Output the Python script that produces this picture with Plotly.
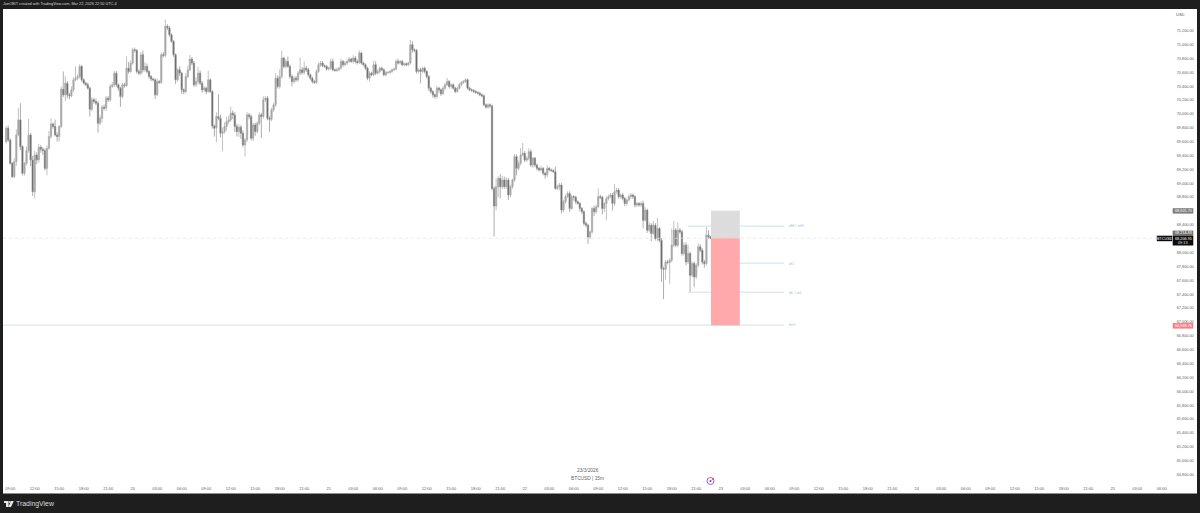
import plotly.graph_objects as go

W, H = 1200, 513
ML, MR, MT, MB = 3, 28, 9, 28

FIRST_OPEN = 69600
closes_a = [69794,69625,69288,69095,69312,69697,69914,69529,69143,69288,
69471,69697,69336,68878,69408,69336,69519,69490,69471,69215,
69504,69673,69856,69818,69697,69673,69818,70357,70275,70444,
70275,70261,70347,70492,70516,70540,70685,70492,70444,70420,
70372,70068,70203,70179,70155,69866,69938,70097,70083,70227,
70203,70396,70420,70588,70420,70372,70251,70420,70410,70660,
70612,70733,70925,70916,70612,70588,70853,70636,70685,70612,
70540,70502,70492,70275,70468,70453,70853,70844,71263,71239,
71142,71046,70853,70492,70636,70588,70347,70323,70540,70636,
70791,70733,70420,70468,70588,70444,70347,70372,70323,70492,
70323,69827,69794,69962,69938,69721,69745,69818,69890,69914,
70010,69986,69818,69745,69808,69721,69553,69625,69986,69962,
69649]
up_a = [30,40,20,20,50,80,170,240,20,20,
60,230,30,60,60,40,50,30,30,30,
40,80,80,20,100,40,20,40,255,100,
30,30,50,40,170,30,30,20,20,20,
30,20,40,30,40,30,40,30,40,30,
30,30,40,30,30,20,20,30,30,170,
90,40,30,30,20,30,40,60,60,40,
20,20,20,20,40,20,30,40,100,30,
30,20,20,20,30,50,20,20,50,60,
60,30,30,60,90,40,30,30,20,130,
20,20,20,60,320,50,60,60,70,60,
90,40,40,40,40,30,40,30,40,30,
30]
dn_a = [30,30,20,20,20,60,20,50,30,30,
30,30,90,60,96,60,40,50,60,30,
100,20,30,30,20,70,70,20,30,90,
50,50,20,30,20,30,30,30,20,20,
20,105,30,30,30,135,30,60,30,40,
30,30,20,30,30,40,150,30,30,20,
30,20,20,30,30,30,30,40,30,30,
30,30,20,60,20,20,20,30,30,30,
30,20,30,60,30,40,60,40,30,30,
20,30,30,30,40,30,40,30,40,20,
20,40,120,200,30,60,260,30,60,40,
30,60,80,70,80,80,30,170,30,40,
30]

closes_b = [69842,69745,69866,69986,69962,70203,70227,69938,69923,70058,
70131,70516,70396,70540,70805,70685,70757,70685,70540,70468,
70516,70492,70588,70636,70598,70660,70636,70564,70516,70468,
70453,70612,70709,70733,70694,70685,70646,70660,70757,70636,
70627,70636,70660,70757,70709,70733,70757,70791,70757,70805,
70757,70742,70877,70733,70709,70660,70516,70588,70564,70709,
70588,70612,70660,70636,70564,70598,70598,70612,70636,70646,
70757,70733,70757,70709,70723,70709,70733,70998,70925,70916,
70612,70636,70612,70660,70612,70540,70372,70323,70275,70251,
70372,70347,70290,70372,70420,70468,70396,70420,70372,70323,
70372,70420,70453,70468,70492,70372,70347,70338,70323,70309,
70299,70275,70261,70131,70097,70131,70116]
up_b = [30,30,30,40,30,50,30,30,30,30,
30,70,40,100,110,20,30,70,30,30,
30,30,30,180,40,100,30,30,20,20,
20,30,30,30,30,20,20,20,40,40,
20,30,20,40,20,30,30,30,20,40,
30,30,40,20,20,20,20,30,20,60,
50,30,20,20,20,20,20,20,20,20,
30,40,20,20,20,20,20,70,50,20,
20,20,30,20,20,20,20,20,20,20,
30,20,20,30,30,50,20,20,20,20,
20,30,20,20,20,20,20,20,20,20,
20,20,20,20,20,20,20]
dn_b = [40,60,30,30,310,30,30,30,180,30,
30,30,30,30,30,30,30,20,30,70,
30,30,30,30,30,30,30,30,30,30,
20,20,20,30,20,20,20,20,20,20,
20,20,20,20,30,20,30,20,20,30,
30,30,20,20,20,30,30,50,20,20,
30,20,30,20,20,20,20,20,20,20,
20,20,20,20,20,20,20,20,40,30,
30,30,170,30,30,30,40,30,40,30,
30,40,30,20,30,20,30,30,20,20,
20,20,20,20,20,20,20,20,20,20,
20,20,20,20,20,20,30]

closes_c = [68926,68671,68950,69070,68950,69046,68950,69046,68830,68950,
69046,69384,69215,69287,69408,69432,69335,69360,69456,69263,
69360,69263,69215,69191,69215,69143,69119,69215,69191,69185,
69167,68926,68950,68974,68613,68733,68806,68854,68637,68806,
68800,68733,68709,68637,68589,68420,68396,68227,68300,68637,
68589,68661,68806,68800,68637,68709,68782,68806,68830,68709,
68878,68902,68806,68830,68782,68709,68757,68806,68830,68806,
68685,68709,68685,68709,68468,68613,68324,68396,68276,68396,
68203,68348,68179,67770,67760,67866,67860,67890,68107,68324,
68107,68324,68300,67987,68107,67866,67987,67674,67842,67650,
67818,68083,68035,67866,67842,68252,68228,68207]
up_c = [20,30,120,30,60,60,50,40,30,30,
20,40,30,40,100,150,30,30,50,30,
20,20,20,20,40,20,20,40,20,20,
20,70,30,30,30,30,30,30,30,30,
20,20,20,20,20,20,30,20,20,20,
40,30,120,30,20,20,30,30,30,30,
110,30,30,20,30,20,20,30,30,20,
20,20,20,30,40,40,20,40,30,60,
30,150,20,30,30,30,30,30,240,130,
30,110,30,30,40,40,130,30,30,30,
30,50,40,30,30,120,70,10]
dn_c = [30,440,60,150,170,30,30,30,70,30,
30,30,100,30,30,20,30,30,30,30,
40,30,30,20,20,30,50,30,20,20,
20,20,30,50,50,30,30,20,50,20,
50,30,20,40,30,30,30,100,30,30,
60,30,20,30,90,50,240,30,20,100,
40,30,30,30,30,40,30,20,30,30,
30,30,20,30,120,20,40,30,110,20,
30,40,30,190,430,150,30,310,30,30,
30,30,30,30,30,50,30,240,30,150,
30,30,30,40,60,30,30,10]

closes = closes_a + closes_b + closes_c
up_wick = up_a + up_b + up_c
dn_wick = dn_a + dn_b + dn_c
opens = [FIRST_OPEN] + closes[:-1]
highs = [max(o, c) + u for o, c, u in zip(opens, closes, up_wick)]
lows = [min(o, c) - d for o, c, d in zip(opens, closes, dn_wick)]
bar_index = [i - 2 for i in range(len(closes))]

time_labels = ["09:00","12:00","15:00","18:00","21:00","20","03:00","06:00",
"09:00","12:00","15:00","18:00","21:00","21","03:00","06:00",
"09:00","12:00","15:00","18:00","21:00","22","03:00","06:00",
"09:00","12:00","15:00","18:00","21:00","23","03:00","06:00",
"09:00","12:00","15:00","18:00","21:00","24","03:00","06:00",
"09:00","12:00","15:00","18:00","21:00","25","03:00","06:00"]
time_ticks = [12 * i for i in range(len(time_labels))]
price_ticks = [64800, 65000, 65200, 65400, 65600, 65800, 66000, 66200, 66400, 66600, 66800, 67000,
               67200, 67400, 67600, 67800, 68000, 68400, 68800, 69000, 69200, 69400, 69600, 69800,
               70000, 70200, 70400, 70600, 70800, 71000, 71200]

BOX_TOP, BOX_MID, BOX_BOTTOM = 68605, 68207, 66948
D_HIGH, D_OPEN, D_LOW, M_OPEN = 68382, 67848, 67429, 66955

X0, X1 = (3 - 10.2) / 2.0417, (1172 - 10.2) / 2.0417
BOX_X0, BOX_X1 = (711 - 10.2) / 2.0417, (739.8 - 10.2) / 2.0417
LINE_X0, LINE_X1 = (688 - 10.2) / 2.0417, (784 - 10.2) / 2.0417

def px(x):
    return (x - ML) / (W - ML - MR)
def py(y):
    return 1 - (y - MT) / (H - MT - MB)

def prect(x0, y0, x1, y1, color, layer="above"):
    return dict(type="rect", xref="paper", yref="paper", x0=px(x0), x1=px(x1), y0=py(y0), y1=py(y1),
                fillcolor=color, line_width=0, layer=layer)

fig = go.Figure(go.Candlestick(
    x=bar_index, open=opens, high=highs, low=lows, close=closes,
    increasing=dict(line=dict(color="#a6a6a6", width=0.7), fillcolor="#a8a8a8"),
    decreasing=dict(line=dict(color="#8a8a8a", width=0.7), fillcolor="#5a5a5a"),
    whiskerwidth=0, hoverinfo="skip", showlegend=False))

shapes = [prect(3, 9, 1197, 493.5, "#ffffff", "below")]
LB = "#cfe0ee"
for y, x0, col in [(D_HIGH, LINE_X0, LB), (D_OPEN, LINE_X1 - 22, LB), (D_LOW, LINE_X0, LB), (M_OPEN, X0, "#d5e6dc")]:
    shapes.append(dict(type="line", x0=x0, x1=LINE_X1, y0=y, y1=y, line=dict(color=col, width=1), layer="above"))
shapes.append(dict(type="line", x0=X0, x1=X1, y0=BOX_MID, y1=BOX_MID, line=dict(color="#d8e2ea", width=0.7, dash="dot"), layer="above"))
shapes.append(dict(type="rect", x0=BOX_X0, x1=BOX_X1, y0=BOX_MID, y1=BOX_TOP, fillcolor="#dcdcdc", line_width=0, layer="above"))
shapes.append(dict(type="rect", x0=BOX_X0, x1=BOX_X1, y0=BOX_BOTTOM, y1=BOX_MID, fillcolor="#ffa9ac", line_width=0, layer="above"))
shapes += [
    prect(1172.7, 208.2, 1193.3, 213.6, "#7d7d7d"),
    prect(1172.7, 230.6, 1193.3, 236, "#6f6f6f"),
    prect(1172.7, 236, 1193.3, 245.5, "#0c0c0c"),
    prect(1156.8, 235.7, 1172.2, 241.2, "#0c0c0c"),
    prect(1172.7, 323, 1193.3, 328.6, "#f77f83"),
]
shapes += [
    dict(type="circle", xref="paper", yref="paper", x0=px(707), x1=px(714), y0=py(484.5), y1=py(477.5),
         fillcolor="#ffffff", line=dict(color="#a45fe0", width=1), layer="above"),
    dict(type="circle", xref="paper", yref="paper", x0=px(709.5), x1=px(711.5), y0=py(482), y1=py(480),
         fillcolor="#5a3fd0", line_width=0, layer="above"),
    dict(type="circle", xref="paper", yref="paper", x0=px(712), x1=px(714), y0=py(480), y1=py(478),
         fillcolor="#f04040", line_width=0, layer="above"),
]
shapes += [
    prect(4, 501, 8.6, 503, "#e6e6e6"),
    prect(6, 503, 8.6, 507, "#e6e6e6"),
    dict(type="circle", xref="paper", yref="paper", x0=px(8.9), x1=px(10.7), y0=py(502.9), y1=py(501.1),
         fillcolor="#e6e6e6", line_width=0),
    dict(type="path", xref="paper", yref="paper", fillcolor="#e6e6e6", line_width=0,
         path=f"M {px(11)} {py(501)} L {px(13.8)} {py(501)} L {px(11)} {py(507)} L {px(8.4)} {py(507)} Z"),
]

def note(x, y, text, size=4.0, color="#5e5e5e", anchor="left", font="Liberation Sans"):
    return dict(xref="paper", yref="paper", x=px(x), y=py(y), text=text, showarrow=False, xanchor=anchor,
                yanchor="middle", font=dict(size=size, color=color, family=font), borderpad=0, borderwidth=0)

annotations = [
    note(3, 4.3, "JoeOBIT created with TradingView.com, Mar 22, 2026 22:50 UTC-4", 3.8, "#d6d6d6"),
    note(16, 504, "TradingView", 6.9, "#dcdcdc"),
    note(587.7, 470, "23/3/2026", 4.8, "#666666", "center"),
    note(587.7, 478, "BTCUSD | 15m", 4.8, "#666666", "center"),
    note(1180, 14.2, "USD", 4, "#555555", "center"),
    note(1183, 211, "68,605.70", 3.8, "#ffffff", "center"),
    note(1183, 233.3, "68,214.83", 3.8, "#ffffff", "center"),
    note(1183, 238.5, "68,206.95", 3.8, "#ffffff", "center"),
    note(1183, 243, "09:13", 3.8, "#e0e0e0", "center"),
    note(1164.5, 238.5, "BTCUSD", 3.8, "#ffffff", "center"),
    note(1183, 325.8, "66,948.76", 3.8, "#ffffff", "center"),
    note(789, 225.5, "dH / wH", 4.1, "#a5c2da"),
    note(789, 263, "dO", 4.1, "#a5c2da"),
    note(789, 292, "dL / wL", 4.1, "#a5c2da"),
    note(789, 324, "mO", 4.1, "#86cda8"),
]

fig.update_layout(
    width=W, height=H, autosize=False,
    margin=dict(l=ML, r=MR, t=MT, b=MB, pad=0),
    paper_bgcolor="#1e1e1e", plot_bgcolor="rgba(0,0,0,0)",
    boxgap=0.12, shapes=shapes, annotations=annotations,
    xaxis=dict(range=[X0, X1], showgrid=False, zeroline=False, showline=False, rangeslider=dict(visible=False),
               tickmode="array", tickvals=time_ticks, ticktext=time_labels, ticks="", ticklen=0,
               tickfont=dict(size=4, color="#5e5e5e", family="Liberation Sans"), tickangle=0),
    yaxis=dict(range=[64649, 71513], showgrid=False, zeroline=False, showline=False, side="right",
               tickmode="array", tickvals=price_ticks, ticktext=[f"{v:,.2f}" for v in price_ticks], ticks="outside",
               ticklen=3, tickcolor="rgba(0,0,0,0)",
               tickfont=dict(size=3.8, color="#5e5e5e", family="Liberation Sans")),
)
fig.write_html("out.html", config=dict(displayModeBar=False),
               post_script="document.body.style.margin='0';document.documentElement.style.overflow='hidden';window.dispatchEvent(new Event('resize'));")
